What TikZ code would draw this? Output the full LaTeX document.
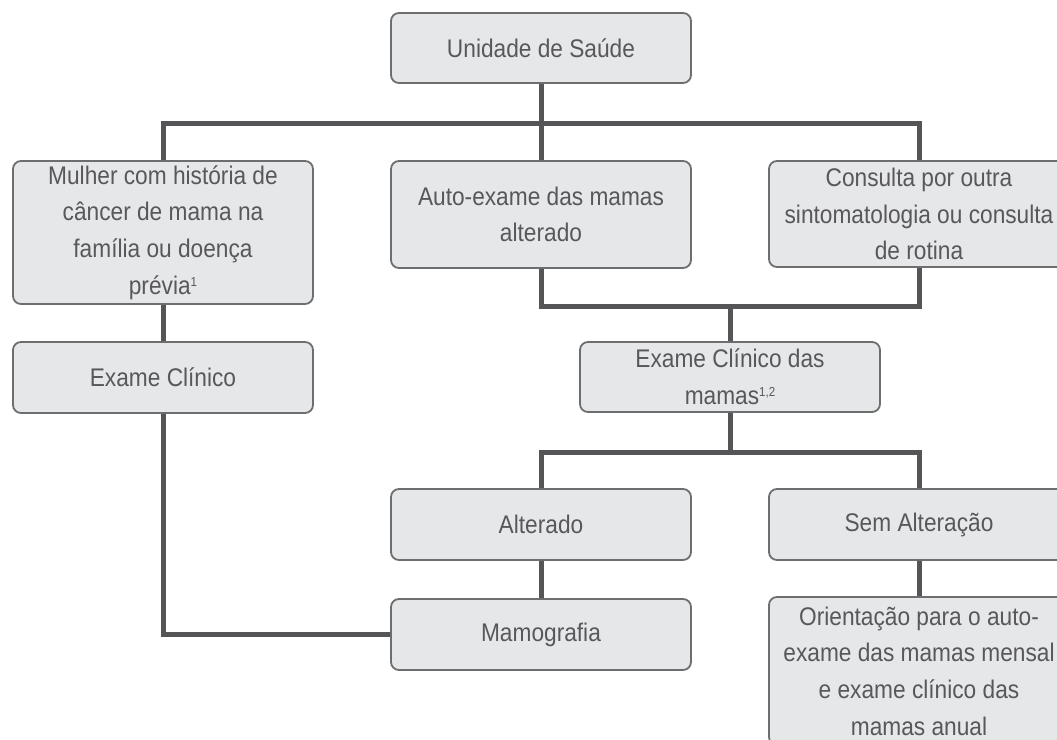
\documentclass[tikz,border=0pt]{standalone}
\usepackage{fontspec}
\setmainfont{Liberation Sans}[FakeStretch=0.89]
\usetikzlibrary{backgrounds}
\definecolor{connc}{HTML}{555557}
\definecolor{boxline}{HTML}{6D6E70}
\definecolor{boxfill}{HTML}{E6E7E8}
\definecolor{txt}{HTML}{58585A}
\newcommand{\supr}[1]{\raisebox{8pt}{\fontsize{13}{13}\selectfont #1}}
\begin{document}
\begin{tikzpicture}[x=1pt,y=-1pt,
  box/.style={draw=boxline, fill=boxfill, line width=1.8pt, rounded corners=8pt,
    inner sep=0pt, align=center, text=txt,
    font=\fontsize{25.5}{36.7}\selectfont, minimum width=300pt},
  conn/.style={draw=connc, line width=5pt, line join=miter}]
\useasboundingbox (0,0) rectangle (1057,739);
\clip (0,0) rectangle (1057,739);
% bus levels
\coordinate (bus1) at (0,123);
\coordinate (bus2) at (0,306);
\coordinate (bus3) at (0,452);
% nodes
\node[box, minimum height=70pt] (uni) at (541,48) {Unidade de Saúde};
\node[box, minimum height=143pt] (mulher) at (163,232.5) {Mulher com história de\\câncer de mama na\\família ou doença\\prévia\supr{1}};
\node[box, minimum height=107pt] (auto) at (541,214.5) {Auto-exame das mamas\\alterado};
\node[box, minimum height=106pt] (consulta) at (919,214) {Consulta por outra\\sintomatologia ou consulta\\de rotina};
\node[box, minimum height=71pt] (exame) at (163,377.5) {Exame Clínico};
\node[box, minimum height=70pt] (ecm) at (730,377) {Exame Clínico das\\mamas\supr{1,2}};
\node[box, minimum height=71pt] (alt) at (541,524.5) {Alterado};
\node[box, minimum height=71pt] (sem) at (919,524.5) {Sem Alteração};
\node[box, minimum height=71pt] (mamo) at (541,634.5) {Mamografia};
\node[box, minimum height=148pt] (ori) at (919,671) {Orientação para o auto-\\exame das mamas mensal\\e exame clínico das\\mamas anual};
% connectors (behind boxes)
\begin{scope}[on background layer]
\draw[conn] (uni.south) -- (uni.south |- bus1);
\draw[conn] (mulher.north) |- (consulta.north |- bus1) -- (consulta.north);
\draw[conn] (auto.north) -- (auto.north |- bus1);
\draw[conn] (auto.south) |- (consulta.south |- bus2) -- (consulta.south);
\draw[conn] (ecm.north) -- (ecm.north |- bus2);
\draw[conn] (ecm.south) -- (ecm.south |- bus3);
\draw[conn] (alt.north) |- (sem.north |- bus3) -- (sem.north);
\draw[conn] (alt.south) -- (mamo.north);
\draw[conn] (sem.south) -- (ori.north);
\draw[conn] (mulher.south) -- (exame.north);
\draw[conn] (exame.south) |- (mamo.west);
\end{scope}
\end{tikzpicture}
\end{document}
